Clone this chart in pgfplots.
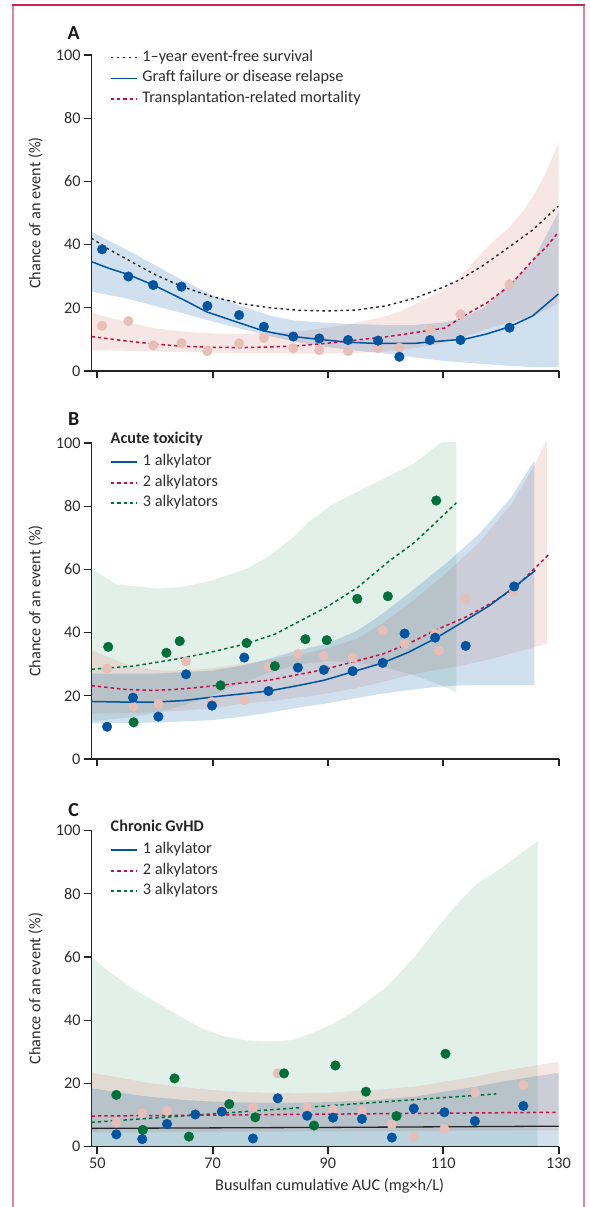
\documentclass[border=0pt]{standalone}
\usepackage{pgfplots}
\pgfplotsset{compat=1.18}
\usepackage{fontspec}
\setmainfont{Carlito}
\definecolor{lblue}{RGB}{0,84,160}
\definecolor{lred}{RGB}{200,16,70}
\definecolor{lgreen}{RGB}{0,112,58}
\definecolor{lpinkdot}{RGB}{230,190,186}
\definecolor{bandpinkc}{RGB}{210,115,95}
\definecolor{axisgray}{RGB}{35,35,35}
\definecolor{txt}{RGB}{45,45,45}
\definecolor{framepink}{RGB}{222,134,160}
\definecolor{framered}{RGB}{196,40,80}
\newcommand\fs{\fontsize{16.3}{19}\selectfont}
\pgfplotsset{
 panel/.style={
  scale only axis, width=467bp, height=316bp,
  xmin=49, xmax=130, ymin=0, ymax=100,
  axis lines*=left,
  axis line style={axisgray, line width=1.2bp},
  xtick={50,70,90,110,130}, ytick={0,20,...,100},
  tick align=outside,
  major tick length=7.5bp,
  xtick style={axisgray, line width=2bp},
  ytick style={axisgray, line width=1.2bp},
  /pgf/number format/assume math mode=true,
  ticklabel style={font=\fs, text=txt},
  ylabel={Chance of an event (\%)},
  every axis y label/.style={at={(axis description cs:-0.1199,0.5)}, rotate=90, anchor=center, font=\fs, text=txt},
  legend cell align=left,
  legend image code/.code={\draw[##1] (0bp,0bp) -- (26bp,0bp);},
  legend style={draw=none, fill=none, font=\fs, text=txt, inner sep=0pt, outer sep=0pt, row sep=3.6bp, column sep=4bp, anchor=north west, nodes={inner sep=1bp, text height=11bp, text depth=4bp}},
 },
 bblue/.style={draw=none, fill=lblue, fill opacity=0.18, forget plot},
 bpink/.style={draw=none, fill=bandpinkc, fill opacity=0.17, forget plot},
 bgreen/.style={draw=none, fill=lgreen, fill opacity=0.11, forget plot},
 dblue/.style={only marks, mark=*, mark size=4.8bp, mark options={draw=lblue, fill=lblue}, forget plot},
 dpink/.style={only marks, mark=*, mark size=4.8bp, mark options={draw=lpinkdot, fill=lpinkdot}, forget plot},
 dgreen/.style={only marks, mark=*, mark size=4.8bp, mark options={draw=lgreen, fill=lgreen}, forget plot},
}
\begin{document}
\begin{tikzpicture}
\path[use as bounding box] (0bp,0bp) rectangle (590bp,1207bp);
\draw[framepink, line width=1.3bp] (13bp,0bp) -- (13bp,1202bp);
\draw[framepink, line width=2.6bp] (584bp,0bp) -- (584bp,1202bp);
\draw[framered, line width=1.5bp] (12.4bp,1202bp) -- (585.3bp,1202bp);
\node[font=\fontsize{20}{22}\selectfont\bfseries, text=black!90] at (73.7bp,1174bp) {A};
\node[font=\fontsize{20}{22}\selectfont\bfseries, text=black!90] at (73.7bp,788bp) {B};
\node[font=\fontsize{20}{22}\selectfont\bfseries, text=black!90] at (73.7bp,397bp) {C};
\node[anchor=west, font=\fs\bfseries, text=black!85, inner sep=0pt] at (110.5bp,768bp) {Acute toxicity};
\node[anchor=west, font=\fs\bfseries, text=black!85, inner sep=0pt] at (110.5bp,381.3bp) {Chronic GvHD};

% ---------------- Panel A ----------------
\begin{axis}[panel, at={(91.5bp,836bp)}, anchor=south west, xticklabels={},
  legend style={at={(axis description cs:0.0394,1.018)}}]
\addlegendimage{black!85, line width=1.4bp, dash pattern=on 2.6bp off 3.4bp}\addlegendentry{1–year event-free survival}
\addlegendimage{lblue, line width=1.6bp}\addlegendentry{Graft failure or disease relapse}
\addlegendimage{lred, line width=1.5bp, dash pattern=on 3.4bp off 3bp}\addlegendentry{Transplantation-related mortality}
\addplot[bpink] coordinates {(49,18.5) (55,15.5) (60,13.5) (65,12.5) (70,11.9) (75,11.7) (80,11.9) (85,12.6) (90,13.7) (95,15.3) (100,17.3) (102.4,18.8) (105,21) (110,25.5) (113,30) (115,34) (117,38) (119,41.5) (121.5,45.5) (124,51) (126,56.5) (128,63.5) (130,72.3)
 (130,21.6) (128,19.5) (125.5,17.2) (121.5,15.5) (117,13) (113,10.5) (110,8.8) (105,7.2) (100,6.2) (95,5.7) (90,5.5) (85,5.5) (80,5.6) (75,5.6) (70,5.8) (65,6) (60,6.2) (55,6.4) (49,6.6)};
\addplot[bblue] coordinates {(49,44) (55,38.5) (60,33.5) (65,28.5) (70,24) (75,20.5) (80,17.5) (84,16) (90,15.2) (95,14.8) (100,14.6) (105,14.6) (110,15.3) (113,16.5) (117,20) (121.5,27.5) (125.5,34.6) (130,50.4)
 (130,1.2) (125,1.3) (121.5,1.6) (115,2.5) (110,3.2) (105,4.3) (100,5.5) (95,6.4) (90,7.5) (85,9.0) (80,11) (75,13.3) (70,15.7) (65,18.2) (60,20.6) (55,23) (49,25.1)};
\addplot[dpink] coordinates {(50.85,14.3) (55.4,15.8) (59.7,8.1) (64.6,8.8) (69.1,6.3) (74.6,8.8) (78.9,10.5) (84.0,7.2) (88.5,6.6) (93.5,6.3) (98.7,7.2) (102.4,7.4) (107.7,13.2) (113.0,17.9) (121.5,27.4)};
\addplot[black!85, line width=1.4bp, dash pattern=on 2.6bp off 3.4bp, no marks, forget plot] coordinates {(49,42) (52,38.5) (55,35.5) (60,30.5) (65,26.5) (70,23.5) (75,21.3) (80,20) (85,19.2) (90,19) (95,19.3) (100,20.6) (105,23) (110,26.5) (113,29) (117,33.5) (121.5,39.3) (125.5,44.6) (130,52.2)};
\addplot[lred, line width=1.5bp, dash pattern=on 3.4bp off 3bp, no marks, forget plot] coordinates {(49,10.9) (55,9.5) (60,8.5) (65,7.8) (70,7.5) (75,7.4) (80,7.6) (85,8.0) (90,8.8) (95,9.8) (100,10.8) (102.4,11.4) (106,12.4) (110.3,13.6) (113.8,17.7) (117.5,21.5) (121.5,26.9) (125.5,35) (128,39.5) (130,44)};
\addplot[lblue, line width=1.5bp, no marks, forget plot] coordinates {(49,34.6) (52,32.5) (55.4,30.5) (60,27) (65,22.5) (69,18.7) (75,15) (79,12.6) (84,10.9) (88.5,10) (93.5,9.1) (98.7,8.7) (104.8,8.7) (107.7,9.2) (113.8,10.1) (117.5,11.7) (121.5,14.0) (125.5,17.4) (130,24.4)};
\addplot[dblue] coordinates {(50.85,38.5) (55.4,29.9) (59.7,27.2) (64.6,26.7) (69.1,20.6) (74.6,17.7) (78.9,14.0) (84.0,10.9) (88.5,10.3) (93.5,9.8) (98.7,9.6) (102.4,4.5) (107.7,9.8) (113.0,9.8) (121.5,13.7)};
\end{axis}

% ---------------- Panel B ----------------
\begin{axis}[panel, at={(91.5bp,448bp)}, anchor=south west, xticklabels={},
  legend style={at={(axis description cs:0.0394,0.966)}}]
\addlegendimage{lblue, line width=1.6bp}\addlegendentry{1 alkylator}
\addlegendimage{lred, line width=1.5bp, dash pattern=on 3.4bp off 3bp}\addlegendentry{2 alkylators}
\addlegendimage{lgreen, line width=2bp, dash pattern=on 3.4bp off 3bp}\addlegendentry{3 alkylators}
\addplot[bgreen] coordinates {(49,60.2) (53.3,55.3) (60.5,53.9) (65,54.5) (69.9,56.5) (75.9,60.2) (80,64.5) (84,70.2) (87,75.5) (90.5,80.2) (94,83.5) (98.3,87.5) (104.9,93.4) (109.5,100) (112.3,101)
 (112.3,21) (110,23) (105,26.5) (100,29) (95,30.5) (90,31) (85,30) (80,27.5) (75,24) (70,20) (65,17) (60,14.5) (55,13) (49,12)};
\addplot[bpink] coordinates {(49,34.4) (55,30) (60,28.1) (65,28) (70,28.7) (75,30) (80,31.5) (85,33) (89.8,35) (95,38) (99.5,43) (104.7,50) (110,58) (116,68) (122,81) (125.5,92) (128,101)
 (128,36.5) (122,33.5) (118,31.5) (113,29.5) (108.6,28.1) (104,26.5) (99.5,24.4) (95,22.5) (89.8,20.7) (85,19.5) (80,18.3) (75,17.5) (70,16) (65,15.3) (60,14.8) (55,14.5) (49,14.4)};
\addplot[bblue] coordinates {(49,27) (55,27) (60,27) (65,27.5) (70,28) (75,29.5) (79,31.3) (84,34) (89.8,36.5) (95,40.5) (99.5,46) (104.7,53.4) (110.5,61.9) (116.3,71.4) (121.8,82.8) (125.8,94.4)
 (125.8,23.4) (118,23.4) (113,23.3) (108.6,22.8) (104,21.8) (99.5,20.7) (94,19) (89.8,17.6) (85,16.3) (79,14.4) (75,13.4) (70,12.3) (60,11.5) (49,11.3)};
\addplot[dpink] coordinates {(51.7,28.6) (56.3,16.5) (60.6,17.4) (65.4,30.9) (69.9,18.1) (75.5,18.6) (79.7,29.2) (84.8,33.2) (89.3,32.6) (94.3,32.1) (99.5,40.7) (103.3,36.5) (108.6,39.7) (109.3,34.2) (113.9,50.7) (122.3,53.1)};
\addplot[lgreen, line width=1.5bp, dash pattern=on 3.4bp off 3bp, no marks, forget plot] coordinates {(49,28.4) (56.3,29.4) (64.3,31.8) (69,33.5) (75.9,36.5) (80.8,39.5) (85,43.5) (89.8,48.1) (95.1,54.2) (100.4,62.3) (105,68.5) (108.8,75) (112.3,81.1)};
\addplot[lred, line width=1.5bp, dash pattern=on 3.4bp off 3bp, no marks, forget plot] coordinates {(49,23.2) (55,22) (60,21.7) (65,22.2) (69.9,23.1) (79.7,24.9) (89.3,28.3) (99.5,33.2) (104,36.5) (108.6,40.7) (113.9,44.9) (118,49) (122.3,53.9) (128.3,64.7)};
\addplot[lblue, line width=1.5bp, no marks, forget plot] coordinates {(49,18.2) (55,18) (60,18) (65,18.5) (71.4,19.9) (79.7,21.5) (85,23.3) (89.3,24.9) (94.3,27.6) (99.5,30.4) (104,33.8) (108.6,38.1) (113.9,43.9) (118,48.5) (122.3,54.4) (126,59.7)};
\addplot[dgreen] coordinates {(51.9,35.5) (56.3,11.6) (62.0,33.6) (64.3,37.3) (71.4,23.3) (75.9,36.7) (80.8,29.4) (86.1,37.9) (89.8,37.6) (95.1,50.7) (100.4,51.5) (108.8,81.8)};
\addplot[dblue] coordinates {(51.7,10.2) (56.2,19.4) (60.6,13.4) (65.4,26.8) (69.9,16.9) (75.5,32.1) (79.7,21.5) (84.8,28.9) (89.3,28.2) (94.3,27.8) (99.5,30.4) (103.3,39.7) (108.6,38.4) (113.9,35.8) (122.3,54.6)};
\end{axis}

% ---------------- Panel C ----------------
\begin{axis}[panel, at={(91.5bp,60.3bp)}, anchor=south west,
  xlabel={Busulfan cumulative AUC (mg×h/L)},
  every axis x label/.style={at={(axis description cs:0.51,-0.1235)}, anchor=center, font=\fs, text=txt},
  legend style={at={(axis description cs:0.0394,0.965)}}]
\addlegendimage{lblue, line width=1.6bp}\addlegendentry{1 alkylator}
\addlegendimage{lred, line width=1.5bp, dash pattern=on 3.4bp off 3bp}\addlegendentry{2 alkylators}
\addlegendimage{lgreen, line width=2bp, dash pattern=on 3.4bp off 3bp}\addlegendentry{3 alkylators}
\addplot[bgreen] coordinates {(49,59.9) (52,55.5) (56.5,49.6) (60,46) (64.4,41.2) (68,37.5) (72.2,34.8) (76,33.6) (78.7,33.3) (82,33.4) (84,33.8) (87,35.8) (91.2,39.1) (95,43.5) (100.3,50.7) (105,60) (110.1,71.8) (113,78) (116,83.4) (120,88) (126.4,96.8)
 (126.4,0.3) (49,0.3)};
\addplot[bpink] coordinates {(49,23.4) (55,21.5) (59.1,20.1) (65,18.8) (69.6,18) (75,17.3) (84,16.9) (90,17.1) (98.3,18) (105,19) (110.1,20.6) (115,22) (119.9,23.8) (125,25.4) (130,26.9)
 (130,5.2) (49,4.5)};
\addplot[bblue] coordinates {(49,18.5) (55,16.8) (59.1,15.8) (65,14.8) (69.6,14.3) (75,14) (84,13.9) (90,14.1) (98.3,14.8) (105,15.8) (110.1,17.4) (115,18.8) (120,20.5) (125,22) (130,23.4)
 (130,0.2) (49,0.2)};
\addplot[dpink] coordinates {(53.3,7.7) (57.8,10.6) (62.1,11.3) (71.6,11.6) (77.0,12.5) (81.3,23.2) (86.4,12.5) (90.9,11.8) (95.9,11.4) (101.1,7.1) (104.9,3.2) (110.2,5.6) (115.5,17.2) (123.9,19.5)};
\addplot[lgreen, line width=1.5bp, dash pattern=on 3.4bp off 3bp, no marks, forget plot] coordinates {(49,7.7) (119.2,16.7)};
\addplot[lred, line width=1.5bp, dash pattern=on 3.4bp off 3bp, no marks, forget plot] coordinates {(49,9.7) (130,10.9)};
\addplot[black!85, line width=1.3bp, no marks, forget plot] coordinates {(49,5.8) (90,6.1) (130,6.5)};
\addplot[dgreen] coordinates {(53.3,16.4) (57.9,5.3) (65.9,3.2) (63.4,21.6) (72.9,13.5) (77.4,9.3) (82.4,23.2) (87.6,6.7) (91.3,25.7) (96.6,17.4) (101.9,9.7) (110.4,29.4)};
\addplot[dblue] coordinates {(53.3,3.9) (57.8,2.4) (62.1,7.2) (67.0,10.2) (71.6,11.1) (77.0,2.6) (81.3,15.3) (86.4,9.8) (90.9,9.2) (95.9,8.8) (101.1,2.9) (104.9,12.1) (110.2,10.9) (115.5,8.1) (123.9,12.9)};
\end{axis}
\end{tikzpicture}
\end{document}
